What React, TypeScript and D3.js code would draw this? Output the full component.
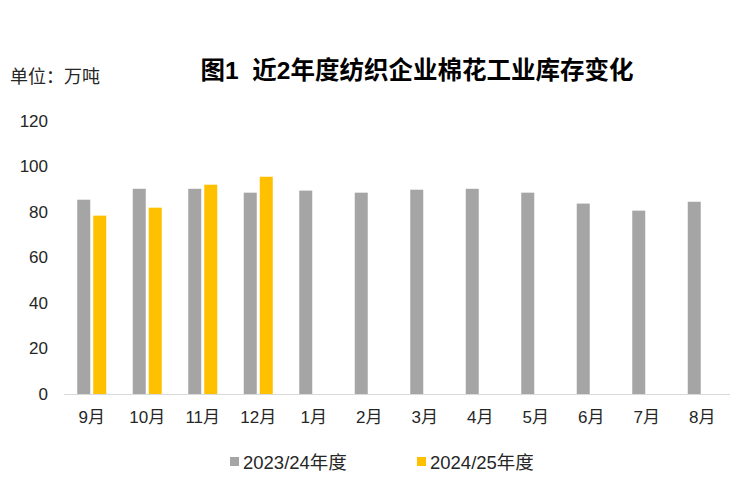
import React from "react";
import * as d3 from "d3";

const months = ["9月", "10月", "11月", "12月", "1月", "2月", "3月", "4月", "5月", "6月", "7月", "8月"];
const series2324 = [85.4, 90.2, 90.2, 88.5, 89.4, 88.5, 89.8, 90.2, 88.5, 83.7, 80.6, 84.5];
const series2425 = [78.4, 81.9, 92.0, 95.5];
const yTicks = [0, 20, 40, 60, 80, 100, 120];
const seriesNames = ["2023/24年度", "2024/25年度"];
const colors = ["#A5A5A5", "#FFC000"];

export default function App() {
  const W = 750, H = 497;
  const x = d3.scaleBand<string>().domain(months).range([64, 730]).paddingInner(0).paddingOuter(0);
  const y = d3.scaleLinear().domain([0, 120]).range([394, 121]);
  const bw = 13;
  const gap = 3;
  const font = "'Liberation Sans', 'Noto Sans CJK SC', sans-serif";
  const cjk = "'Noto Sans CJK SC', 'Liberation Sans', sans-serif";
  return (
    <svg width={W} height={H} style={{ position: "absolute", left: 0, top: 0 }} fontFamily={font}>
      <rect width={W} height={H} fill="#fff" />
      <text x={417} y={79} textAnchor="middle" fontSize={24.5} fontWeight="bold" fill="#000" style={{ whiteSpace: "pre" }}>
        {"图1  近2年度纺织企业棉花工业库存变化"}
      </text>
      <text x={10} y={83} fontSize={18} fill="#262626" fontFamily={cjk}>单位：万吨</text>
      {yTicks.map((t) => (
        <text key={t} x={48} y={y(t)} dy="0.35em" textAnchor="end" fontSize={17} fill="#262626">
          {t}
        </text>
      ))}
      {series2324.map((v, i) => {
        const c = (x(months[i]) as number) + x.bandwidth() / 2;
        return <rect key={"a" + i} x={c - gap / 2 - bw} y={y(v)} width={bw} height={y(0) - y(v)} fill={colors[0]} />;
      })}
      {series2425.map((v, i) => {
        const c = (x(months[i]) as number) + x.bandwidth() / 2;
        return <rect key={"b" + i} x={c + gap / 2} y={y(v)} width={bw} height={y(0) - y(v)} fill={colors[1]} />;
      })}
      <line x1={64} x2={730} y1={y(0) + 0.5} y2={y(0) + 0.5} stroke="#D9D9D9" strokeWidth={1} />
      {months.map((m) => (
        <text key={m} x={(x(m) as number) + x.bandwidth() / 2} y={423} textAnchor="middle" fontSize={17} fill="#262626">
          {m}
        </text>
      ))}
      {seriesNames.map((n, i) => {
        const lx = [230, 417][i];
        return (
          <g key={n}>
            <rect x={lx} y={457} width={9} height={9} fill={colors[i]} />
            <text x={lx + 13} y={468.5} fontSize={18.5} fill="#262626">{n}</text>
          </g>
        );
      })}
    </svg>
  );
}
